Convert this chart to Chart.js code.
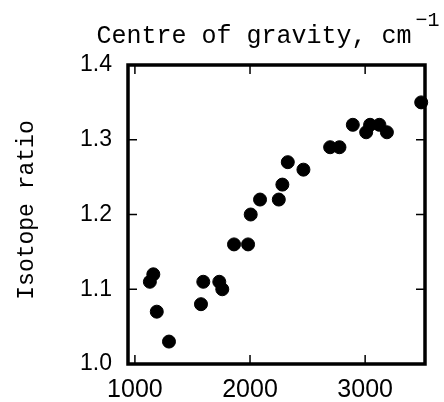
<!DOCTYPE html>
<html>
<head>
<meta charset="utf-8">
<script src="https://cdn.jsdelivr.net/npm/chart.js@4.4.0/dist/chart.umd.min.js"></script>
<style>
html,body{margin:0;padding:0;background:#fff;}
#wrap{width:444px;height:402px;}
</style>
</head>
<body>
<div id="wrap"><canvas id="c" width="444" height="402"></canvas></div>
<script>
// Data
const centreOfGravity = [1130,1160,1190,1296,1574,1594,1733,1759,1861,1983,2006,2087,2250,2281,2328,2464,2696,2777,2893,3009,3043,3124,3189,3487];
const isotopeRatio    = [1.11,1.12,1.07,1.03,1.08,1.11,1.11,1.10,1.16,1.16,1.20,1.22,1.22,1.24,1.27,1.26,1.29,1.29,1.32,1.31,1.32,1.32,1.31,1.35];
const xTickValues = [1000, 2000, 3000];
const yTickValues = [1.0, 1.1, 1.2, 1.3, 1.4];
const xTitle = "Centre of gravity, cm";
const xTitleSup = "\u22121";
const yTitle = "Isotope ratio";

const monoFont = '"Courier New", "Nimbus Mono PS", "FreeMono", "Liberation Mono", monospace';
const sansFont = '"Liberation Sans", Arial, sans-serif';

const framePlugin = {
  id: 'frame',
  afterDraw(chart) {
    const ctx = chart.ctx;
    const a = chart.chartArea;
    const xs = chart.scales.x, ys = chart.scales.y;
    ctx.save();
    ctx.strokeStyle = '#000';
    ctx.lineWidth = 1.5;
    const tl = 9;
    xTickValues.forEach(v => {
      const px = xs.getPixelForValue(v);
      ctx.beginPath();
      ctx.moveTo(px, a.bottom); ctx.lineTo(px, a.bottom - tl);
      ctx.moveTo(px, a.top); ctx.lineTo(px, a.top + tl);
      ctx.stroke();
    });
    yTickValues.forEach(v => {
      const py = ys.getPixelForValue(v);
      ctx.beginPath();
      ctx.moveTo(a.left, py); ctx.lineTo(a.left + tl, py);
      ctx.moveTo(a.right, py); ctx.lineTo(a.right - tl, py);
      ctx.stroke();
    });
    ctx.lineWidth = 3.5;
    ctx.strokeRect(a.left, a.top, a.right - a.left, a.bottom - a.top);
    ctx.fillStyle = '#000';
    ctx.font = '25px ' + monoFont;
    ctx.textAlign = 'center';
    ctx.textBaseline = 'alphabetic';
    const w = ctx.measureText(xTitle).width;
    const cx = 254;
    ctx.fillText(xTitle, cx, 43);
    ctx.textAlign = 'left';
    ctx.font = '20px ' + monoFont;
    ctx.fillText(xTitleSup, cx + w / 2 + 4, 26);
    ctx.translate(27, 210);
    ctx.rotate(-Math.PI / 2);
    ctx.textAlign = 'center';
    ctx.textBaseline = 'middle';
    ctx.font = '23px ' + monoFont;
    ctx.fillText(yTitle, 0, 0);
    ctx.restore();
  }
};

new Chart(document.getElementById('c'), {
  type: 'scatter',
  data: {
    datasets: [{
      data: centreOfGravity.map((x, i) => ({x: x, y: isotopeRatio[i]})),
      backgroundColor: '#000',
      borderColor: '#000',
      pointRadius: 6.5,
      pointHoverRadius: 6.5,
      clip: false
    }]
  },
  options: {
    responsive: false,
    animation: false,
    events: [],
    layout: { padding: { top: 65, right: 19, left: 0, bottom: 0 } },
    plugins: { legend: { display: false }, tooltip: { enabled: false }, title: { display: false } },
    scales: {
      x: {
        type: 'linear',
        min: 940, max: 3520,
        grid: { display: false, drawTicks: false },
        border: { display: false },
        afterBuildTicks: s => { s.ticks = xTickValues.map(v => ({value: v})); },
        afterFit: s => { s.height = 38; },
        ticks: {
          color: '#000',
          font: { family: sansFont, size: 25 },
          padding: 11,
          maxRotation: 0,
          callback: v => String(v)
        }
      },
      y: {
        type: 'linear',
        min: 1.0, max: 1.4,
        grid: { display: false, drawTicks: false },
        border: { display: false },
        afterBuildTicks: s => { s.ticks = yTickValues.map(v => ({value: v})); },
        afterFit: s => { s.width = 128; },
        ticks: {
          color: '#000',
          font: { family: sansFont, size: 23 },
          padding: 16,
          callback: v => Number(v).toFixed(1)
        }
      }
    }
  },
  plugins: [framePlugin]
});
</script>
</body>
</html>
